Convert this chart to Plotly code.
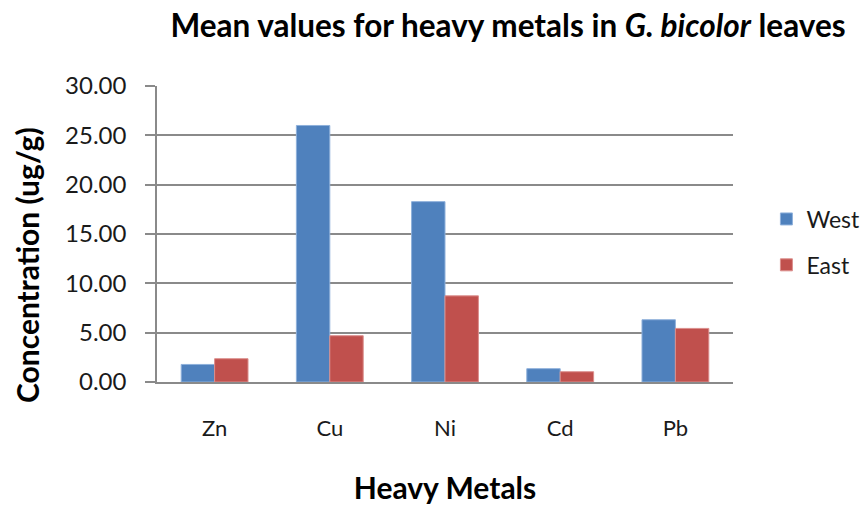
import plotly.graph_objects as go

# Mean heavy metal concentrations (ug/g) in G. bicolor leaves
metals = ["Zn", "Cu", "Ni", "Cd", "Pb"]
west = [1.78, 26.00, 18.28, 1.35, 6.31]
east = [2.36, 4.69, 8.73, 1.04, 5.43]
y_ticks = [0, 5, 10, 15, 20, 25, 30]

FONT = "Lato"
TEXT = "#1a1a1a"

fig = go.Figure()
fig.add_trace(go.Bar(
    name="West", x=metals, y=west, legendgroup="w",
    marker=dict(color="#4F81BD", line=dict(color="#8EB0DB", width=1)),
))
fig.add_trace(go.Bar(
    name="East", x=metals, y=east, legendgroup="e",
    marker=dict(color="#C0504D", line=dict(color="#DB8E8C", width=1)),
))

fig.update_layout(
    width=863, height=505,
    margin=dict(l=157, r=130, t=86, b=123, autoexpand=False),
    paper_bgcolor="white", plot_bgcolor="white",
    font=dict(family=FONT, color=TEXT, size=22),
    barmode="group", bargap=0.42, bargroupgap=0,
    showlegend=True,
    legend=dict(
        x=1.058, y=0.473, xanchor="left", yanchor="middle",
        font=dict(size=23, family=FONT, color=TEXT),
        tracegroupgap=13, itemwidth=30,
    ),
    title=dict(
        text="<b>Mean values for heavy metals in <i>G. bicolor</i> leaves</b>",
        x=508 / 863, xanchor="center", xref="container",
        y=1 - 26 / 505, yanchor="middle", yref="container",
        font=dict(size=31.5, family=FONT, color="black"),
    ),
    xaxis=dict(
        showline=True, linecolor="#8a8a8a", linewidth=1.5,
        ticks="", ticklabelstandoff=26, automargin=False,
        tickfont=dict(size=22, family=FONT, color=TEXT),
        title=dict(text="<b>Heavy Metals</b>", standoff=38,
                   font=dict(size=30, family=FONT, color="black")),
    ),
    yaxis=dict(
        range=[0, 30], tickvals=y_ticks,
        ticktext=[f"{v:.2f}" for v in y_ticks],
        showline=True, linecolor="#8a8a8a", linewidth=1.5,
        ticks="outside", ticklen=10, tickcolor="#8a8a8a", tickwidth=1.5,
        ticklabelstandoff=14, automargin=False,
        showgrid=True, gridcolor="#8a8a8a", gridwidth=1.5,
        zeroline=False,
        tickfont=dict(size=24, family=FONT, color=TEXT),
    ),
    annotations=[dict(
        text="<b>Concentration (ug/g)</b>", textangle=-90,
        xref="paper", yref="paper",
        x=(27 - 157) / 576, y=1 - (265 - 86) / 296,
        xanchor="center", yanchor="middle", showarrow=False,
        font=dict(size=30, family=FONT, color="black"),
    )],
)

fig.write_html("out.html")
